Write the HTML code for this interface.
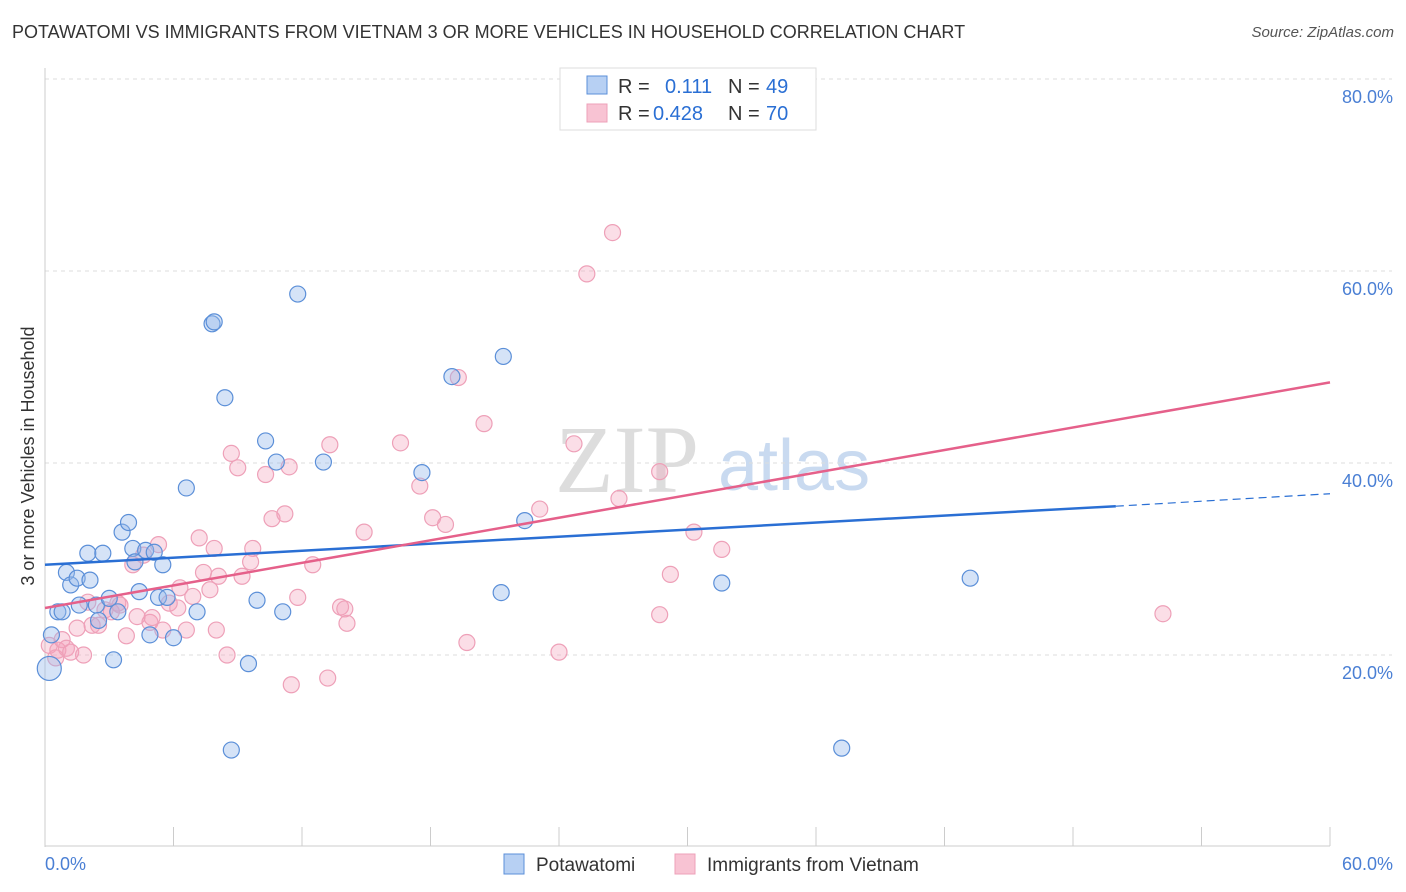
<!DOCTYPE html>
<html><head><meta charset="utf-8">
<style>
body{margin:0;background:#fff;font-family:"Liberation Sans",sans-serif;}
#wrap{position:relative;width:1406px;height:892px;overflow:hidden;}
.t{position:absolute;white-space:nowrap;}
</style></head>
<body>
<div id="wrap">
<div class="t" style="left:12px;top:22px;font-size:18px;color:#333;">POTAWATOMI VS IMMIGRANTS FROM VIETNAM 3 OR MORE VEHICLES IN HOUSEHOLD CORRELATION CHART</div>
<div class="t" style="right:12px;top:24px;font-size:15px;color:#555;font-style:italic;">Source: ZipAtlas.com</div>
<svg id="svg" width="1406" height="892" style="position:absolute;left:0;top:0;"></svg>
</div>
<script>
const blueX=[0.2,0.3,0.6,0.8,1.0,1.2,1.5,1.6,2.0,2.1,2.4,2.5,2.7,3.0,3.2,3.4,3.6,3.9,4.1,4.2,4.4,4.7,4.9,5.1,5.3,5.5,5.7,6.0,6.6,7.1,7.8,7.9,8.4,8.7,9.5,9.9,10.3,10.8,11.1,11.8,13.0,17.6,19.0,21.3,21.4,22.4,31.6,37.2,43.2];
const blueY=[18.6,22.1,24.5,24.5,28.6,27.3,28.0,25.2,30.6,27.8,25.2,23.6,30.6,25.9,19.5,24.5,32.8,33.8,31.1,29.7,26.6,30.9,22.1,30.7,26.0,29.4,26.0,21.8,37.4,24.5,54.5,54.7,46.8,10.1,19.1,25.7,42.3,40.1,24.5,57.6,40.1,39.0,49.0,26.5,51.1,34.0,27.5,10.3,28.0];
const pinkPx=[[50,645],[55,658],[58,650],[62,640],[66,648],[70,652],[78,628],[83,655],[88,602],[93,625],[98,625],[105,610],[112,612],[118,603],[120,605],[127,636],[133,565],[138,617],[143,555],[150,622],[153,618],[158,545],[163,630],[170,603],[178,608],[180,588],[187,630],[192,596],[200,538],[204,572],[210,590],[215,548],[216,630],[218,576],[228,655],[232,453],[237,468],[242,576],[250,562],[253,548],[265,475],[271,519],[284,514],[289,467],[291,685],[298,597],[312,565],[327,678],[330,445],[340,607],[344,609],[347,623],[365,532],[400,443],[420,486],[433,518],[446,524],[459,378],[468,643],[485,424],[540,509],[560,652],[574,444],[586,274],[612,233],[619,499],[659,615],[660,472],[670,574],[695,532],[722,549],[1162,614]];
const pinkX=pinkPx.map(p=>+((p[0]-45)*0.04669).toFixed(1));
const pinkY=pinkPx.map(p=>+((847-p[1])*0.10417).toFixed(1));
const yTicks=[20,40,60,80];
const xTickLabels=["0.0%","60.0%"];
const blueLine=[29.4,35.5,36.8]; // at x=0,50,60
const pinkLine=[24.9,48.4]; // at x=0,60

const X=v=>45+v/60*1285, Y=v=>847-v/20*192;
const svg=document.getElementById('svg');const NS='http://www.w3.org/2000/svg';
function mk(tag,attrs,name,txt){const e=document.createElementNS(NS,tag);for(const k in attrs)e.setAttribute(k,attrs[k]);


if(txt!==undefined)e.textContent=txt;svg.appendChild(e);return e;}
// watermark
mk('text',{x:555,y:492,'font-size':96,fill:'#ddd','font-family':'Liberation Serif'},'watermark-zip','ZIP');
mk('text',{x:718,y:490,'font-size':72,fill:'#c9daf0','font-family':'Liberation Sans'},'watermark-atlas','atlas');
yTicks.forEach(t=>{mk('line',{x1:45,x2:1392,y1:Y(t),y2:Y(t),stroke:'#ddd','stroke-dasharray':'4,4'},'gridline');
mk('text',{x:1393,y:Y(t)+24,'text-anchor':'end','font-size':18,fill:'#4a7fd4'},'y-tick-label',t.toFixed(1)+'%');});
mk('line',{x1:45,x2:45,y1:68,y2:847,stroke:'#ccc'},'y-axis');
mk('line',{x1:45,x2:1330,y1:846,y2:846,stroke:'#ccc'},'x-axis');
for(let i=0;i<=10;i++){mk('line',{x1:X(i*6),x2:X(i*6),y1:827,y2:846,stroke:'#ccc'},'x-tick');}
mk('text',{x:45,y:870,'font-size':18,fill:'#4a7fd4'},'x-tick-label',xTickLabels[0]);
mk('text',{x:1393,y:870,'font-size':18,fill:'#4a7fd4','text-anchor':'end'},'x-tick-label',xTickLabels[1]);
mk('text',{x:34,y:456,'font-size':18,fill:'#333','text-anchor':'middle',transform:'rotate(-90 34 456)'},'y-axis-title','3 or more Vehicles in Household');
pinkX.forEach((x,i)=>mk('circle',{cx:X(x),cy:Y(pinkY[i]),r:8,fill:'rgba(244,160,185,0.35)',stroke:'#eea0b8','stroke-width':1.2},'pink-point'));
blueX.forEach((x,i)=>mk('circle',{cx:X(x),cy:Y(blueY[i]),r:(i==0?12:8),fill:'rgba(150,185,235,0.4)',stroke:'#5b8fd8','stroke-width':1.2},'blue-point'));
mk('line',{x1:X(0),y1:Y(blueLine[0]),x2:X(50),y2:Y(blueLine[1]),stroke:'#2a6fd4','stroke-width':2.5},'blue-trend-line');
mk('line',{x1:X(50),y1:Y(blueLine[1]),x2:X(60),y2:Y(blueLine[2]),stroke:'#2a6fd4','stroke-width':1.2,'stroke-dasharray':'8,5'},'blue-trend-extension');
mk('line',{x1:X(0),y1:Y(pinkLine[0]),x2:X(60),y2:Y(pinkLine[1]),stroke:'#e5608a','stroke-width':2.5},'pink-trend-line');
// top legend
mk('rect',{x:560,y:68,width:256,height:62,fill:'#fff',stroke:'#ddd'},'stats-legend');
mk('rect',{x:587,y:76,width:20,height:18,fill:'#b7d0f3',stroke:'#5b8fd8'},'legend-swatch-blue');
mk('rect',{x:587,y:104,width:20,height:18,fill:'#f8c3d3',stroke:'#eea0b8'},'legend-swatch-pink');
[['R = ',618,93,'#333'],['0.111',665,93,'#2a6fd4'],['N = ',728,93,'#333'],['49',766,93,'#2a6fd4'],
 ['R = ',618,120,'#333'],['0.428',653,120,'#2a6fd4'],['N = ',728,120,'#333'],['70',766,120,'#2a6fd4']].forEach(a=>
 mk('text',{x:a[1],y:a[2],'font-size':20,fill:a[3]},'legend-stat',a[0]));
// bottom legend
mk('rect',{x:504,y:854,width:20,height:20,fill:'#b7d0f3',stroke:'#5b8fd8'},'legend-swatch-potawatomi');
mk('text',{x:536,y:871,'font-size':19,fill:'#333'},'legend-label-potawatomi','Potawatomi');
mk('rect',{x:675,y:854,width:20,height:20,fill:'#f8c3d3',stroke:'#eea0b8'},'legend-swatch-vietnam');
mk('text',{x:707,y:871,'font-size':19,fill:'#333'},'legend-label-vietnam','Immigrants from Vietnam');
</script>
</body></html>
